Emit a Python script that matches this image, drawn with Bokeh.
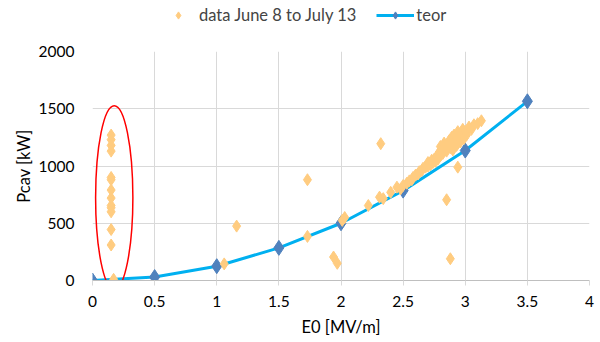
from bokeh.plotting import figure
from bokeh.models import Legend, LegendItem, Range1d, FixedTicker
from bokeh.layouts import column
from bokeh.embed import file_html
from bokeh.resources import INLINE

# theoretical curve
teor_e = [0, 0.5, 1.0, 1.5, 2.0, 2.5, 3.0, 3.5]
teor_p = [0, 30, 125, 285, 500, 785, 1135, 1565]

# measured data June 8 to July 13
data_e = [0.15, 0.15, 0.15, 0.15, 0.15, 0.15, 0.15, 0.15, 0.15, 0.15, 0.15, 0.15, 0.15, 0.17,
          1.06, 1.16, 1.73, 1.73, 1.94, 1.97, 2.01, 2.03, 2.22, 2.31, 2.34, 2.32, 2.40, 2.45,
          2.48, 2.50, 2.53, 2.55, 2.57, 2.58, 2.60, 2.62, 2.63, 2.65, 2.66, 2.68, 2.70, 2.70,
          2.72, 2.73, 2.74, 2.75, 2.76, 2.77, 2.78, 2.78, 2.79, 2.80, 2.80, 2.81, 2.82, 2.83,
          2.84, 2.85, 2.86, 2.87, 2.88, 2.89, 2.90, 2.90, 2.91, 2.92, 2.93, 2.94, 2.95, 2.96,
          2.97, 2.98, 2.99, 3.00, 3.01, 3.03, 3.05, 3.07, 3.10, 3.13,
          2.85, 2.88, 2.94]
data_p = [1270, 1230, 1180, 1130, 900, 880, 790, 720, 655, 635, 600, 445, 310, 10,
          145, 475, 880, 385, 205, 150, 525, 550, 655, 728, 715, 1195, 770, 815,
          800, 830, 850, 870, 880, 900, 920, 930, 950, 960, 980, 990, 1000, 1030,
          1010, 1050, 1030, 1060, 1040, 1080, 1100, 1060, 1120, 1090, 1170, 1140, 1110, 1200,
          1150, 1130, 1180, 1220, 1160, 1250, 1200, 1140, 1270, 1230, 1180, 1300, 1250, 1210,
          1280, 1320, 1240, 1300, 1270, 1340, 1320, 1360, 1370, 1395,
          705, 190, 990]

x_ticks = [0, 0.5, 1, 1.5, 2, 2.5, 3, 3.5, 4]
x_labels = ["0", "0.5", "1", "1.5", "2", "2.5", "3", "3.5", "4"]
y_ticks = [0, 500, 1000, 1500, 2000]

FONT = "Lato"
FS_TICK = "15.5px"
FS_TEXT = "16.5px"
ORANGE = "#FFCC80"
LINE_BLUE = "#00B0F0"
MARK_BLUE = "#4F81BD"

# ---------------- main chart ----------------
p = figure(width=600, height=314, output_backend="svg", toolbar_location=None,
           x_range=Range1d(0, 4), y_range=Range1d(0, 2000),
           min_border_left=92, min_border_right=11, min_border_bottom=62, min_border_top=23)
p.outline_line_color = None
p.background_fill_color = "white"

p.line(teor_e, teor_p, line_color=LINE_BLUE, line_width=3)
p.scatter(teor_e, teor_p, marker="diamond", size=15, fill_color=MARK_BLUE, line_color=MARK_BLUE)
p.scatter(data_e, data_p, marker="diamond", size=12, fill_color=ORANGE, line_color=ORANGE)

p.ellipse(x=0.175, y=724, width=0.30, height=1606, fill_color=None,
          line_color="#FF0000", line_width=1.5)

p.xaxis.ticker = FixedTicker(ticks=x_ticks)
p.xaxis.major_label_overrides = {t: l for t, l in zip(x_ticks, x_labels)}
p.yaxis.ticker = FixedTicker(ticks=y_ticks)
for ax in (p.xaxis, p.yaxis):
    ax.minor_tick_line_color = None
    ax.major_label_text_font = FONT
    ax.major_label_text_font_size = FS_TICK
    ax.major_label_text_color = "#000000"
    ax.axis_label_text_font = FONT
    ax.axis_label_text_font_size = FS_TEXT
    ax.axis_label_text_font_style = "normal"
    ax.axis_label_text_color = "#000000"
p.yaxis.major_tick_line_color = None
p.xaxis.major_tick_line_color = "#D9D9D9"
p.xaxis.major_tick_in = 0
p.xaxis.major_tick_out = 5
p.xaxis.axis_label = "E0 [MV/m]"
p.yaxis.axis_label = "Pcav [kW]"
p.xaxis.axis_line_color = "#BFBFBF"
p.xaxis.axis_line_width = 1
p.yaxis.axis_line_color = None
p.xaxis.major_label_standoff = 10
p.yaxis.major_label_standoff = 12
p.xaxis.axis_label_standoff = 7
p.yaxis.axis_label_standoff = 2

p.xgrid.ticker = FixedTicker(ticks=x_ticks)
p.ygrid.ticker = FixedTicker(ticks=y_ticks)
p.grid.grid_line_color = "#D9D9D9"
p.grid.grid_line_width = 1

# ---------------- legend strip above ----------------
lg = figure(width=600, height=28, output_backend="svg", toolbar_location=None,
            x_range=Range1d(10, 11), y_range=Range1d(10, 11),
            x_axis_type=None, y_axis_type=None, min_border=0,
            min_border_left=0, min_border_right=0, min_border_top=0, min_border_bottom=0)
lg.grid.visible = False
lg.outline_line_color = None
l_data = lg.scatter(data_e, data_p, marker="diamond", size=12, fill_color=ORANGE, line_color=ORANGE)
l_line = lg.line(teor_e, teor_p, line_color=LINE_BLUE, line_width=3)
l_mark = lg.scatter(teor_e, teor_p, marker="diamond", size=12, fill_color=MARK_BLUE, line_color=MARK_BLUE)

legend = Legend(items=[LegendItem(label="data June 8 to July 13", renderers=[l_data]),
                       LegendItem(label="teor", renderers=[l_line, l_mark])],
                orientation="horizontal", location=(67, 3),
                label_text_font=FONT, label_text_font_size=FS_TEXT,
                border_line_color=None, background_fill_alpha=0,
                glyph_width=38, glyph_height=18, label_standoff=2, spacing=20,
                padding=0, margin=0)
lg.add_layout(legend, "center")

layout = column(lg, p, spacing=0)
open("out.html", "w").write(file_html(layout, INLINE))
